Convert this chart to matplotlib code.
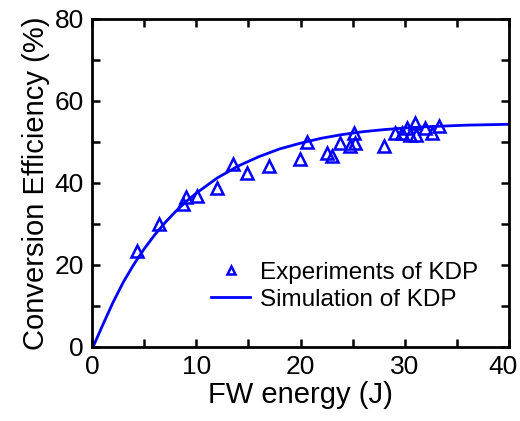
import matplotlib
matplotlib.use("Agg")
import matplotlib.pyplot as plt
import matplotlib.ticker as ticker
import matplotlib.transforms as transforms

plt.rcParams['font.family'] = ['Liberation Sans', 'DejaVu Sans']

exp_energy = [4.35, 6.45, 8.7, 9.0, 10.1, 12.0, 13.5, 14.9, 17.0, 19.9, 20.65,
              22.5, 23.0, 23.8, 24.75, 25.1, 25.2, 28.0, 29.1, 29.7, 30.2, 30.5,
              31.0, 31.1, 31.9, 32.6, 33.3]
exp_eff = [23.5, 30.0, 34.9, 36.5, 36.7, 38.7, 44.6, 42.4, 44.2, 45.9, 50.1,
           47.2, 46.6, 49.7, 49.0, 52.1, 49.8, 49.0, 52.1, 52.1, 53.3, 51.7,
           54.6, 51.7, 53.3, 52.1, 53.9]

# simulation curve
sim_energy = [0.1, 1, 2, 3, 4, 5, 6, 7, 8, 9, 10, 12, 14, 16, 18, 20, 22, 24,
              26, 28, 30, 32, 34, 36, 38, 40]
sim_eff = [0.0, 5.2, 10.8, 15.8, 20.1, 23.9, 27.3, 30.3, 33.0, 35.4, 37.5,
           41.2, 44.1, 46.4, 48.3, 49.7, 50.9, 51.8, 52.5, 53.0, 53.4, 53.7,
           53.9, 54.1, 54.2, 54.3]

x_ticks = [0, 10, 20, 30, 40]
y_ticks = [0, 20, 40, 60, 80]

fig = plt.figure(figsize=(5.2, 4.21), dpi=100)
ax = fig.add_axes([0.177, 0.176, 0.802, 0.779])

ax.plot(exp_energy, exp_eff, linestyle='none', marker='^', markersize=8,
        markerfacecolor='none', markeredgecolor='#0000ff', markeredgewidth=1.8,
        label='Experiments of KDP', zorder=3)
ax.plot(sim_energy, sim_eff, color='#0000ff', linewidth=2, label='Simulation of KDP')

ax.set_xlim(0, 40)
ax.set_ylim(0, 80)
ax.xaxis.set_major_locator(ticker.FixedLocator(x_ticks))
ax.xaxis.set_minor_locator(ticker.MultipleLocator(5))
ax.yaxis.set_major_locator(ticker.FixedLocator(y_ticks))
ax.yaxis.set_minor_locator(ticker.MultipleLocator(10))
ax.tick_params(which='both', direction='in', top=True, right=True, width=1.8, labelsize=19)
ax.tick_params(which='major', length=6, pad=6)
ax.tick_params(which='minor', length=6)
for s in ax.spines.values():
    s.set_linewidth(2)

ax.set_xlabel('FW energy (J)', fontsize=21, labelpad=1)
ax.set_ylabel('Conversion Efficiency (%)', fontsize=21, labelpad=3)

# nudge the last x tick label left so it stays inside the figure
last = ax.xaxis.get_major_ticks()[-1].label1
last.set_transform(last.get_transform() + transforms.ScaledTranslation(-6 / 100, 0, fig.dpi_scale_trans))

leg = ax.legend(loc='lower right', bbox_to_anchor=(0.96, 0.065), frameon=False,
                fontsize=17.5, handlelength=1.6, handletextpad=0.4,
                labelspacing=0.22, borderaxespad=0.2)
leg.legend_handles[0].set_markersize(6)

fig.savefig('out.png', dpi=100)
